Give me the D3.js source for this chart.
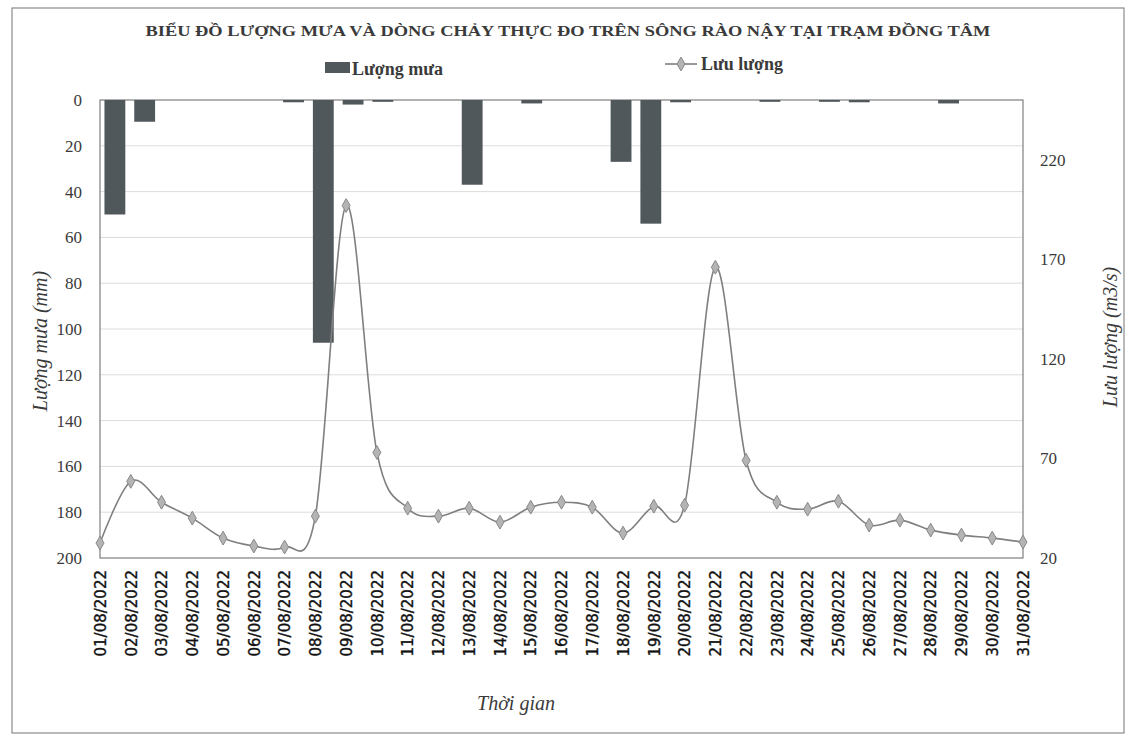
<!DOCTYPE html>
<html>
<head>
<meta charset="utf-8">
<script src="https://cdn.jsdelivr.net/npm/d3@7"></script>
<style>
  html, body { margin: 0; padding: 0; background: #fff; }
  svg { display: block; }
</style>
</head>
<body>
<svg id="chart" width="1128" height="737"></svg>
<script>
// ---------- DATA ----------
const days = ["01/08/2022","02/08/2022","03/08/2022","04/08/2022","05/08/2022","06/08/2022","07/08/2022","08/08/2022","09/08/2022","10/08/2022","11/08/2022","12/08/2022","13/08/2022","14/08/2022","15/08/2022","16/08/2022","17/08/2022","18/08/2022","19/08/2022","20/08/2022","21/08/2022","22/08/2022","23/08/2022","24/08/2022","25/08/2022","26/08/2022","27/08/2022","28/08/2022","29/08/2022","30/08/2022","31/08/2022"];
const rainfall = [50, 9.5, 0, 0, 0, 0, 1, 106, 2, 0.8, 0, 0, 37, 0, 1.5, 0, 0, 27, 54, 1, 0, 0, 0.8, 0, 0.8, 1, 0, 0, 1.5, 0, 0];
const discharge = [27.5, 58.5, 48, 40, 30, 26, 25.5, 41, 197, 73, 45, 41, 45, 38, 45.5, 48, 45.5, 32.5, 46, 46.5, 166, 69, 48, 44.5, 48.5, 36.5, 39, 34, 31.5, 30, 28];
const rainTicks = [0, 20, 40, 60, 80, 100, 120, 140, 160, 180, 200];
const flowTicks = [20, 70, 120, 170, 220];
const titleText = "BIỂU ĐỒ LƯỢNG MƯA VÀ DÒNG CHẢY  THỰC ĐO TRÊN SÔNG RÀO NẬY TẠI TRẠM ĐỒNG TÂM";
const legendRain = "Lượng mưa";
const legendFlow = "Lưu lượng";
const yLeftTitle = "Lượng mưa (mm)";
const yRightTitle = "Lưu lượng  (m3/s)";
const xTitle = "Thời gian";

// ---------- LAYOUT ----------
const svg = d3.select("#chart");
const L = 100, R = 1023, T = 100, B = 558;
const serif = "'Liberation Serif', 'Times New Roman', serif";

// outer chart border
svg.append("rect").attr("x", 12).attr("y", 8).attr("width", 1112).attr("height", 725)
  .attr("fill", "none").attr("stroke", "#8a8a8a").attr("stroke-width", 1.2);

// scales
const xBand = d3.scaleBand().domain(days).range([L, R]).paddingInner(0.3).paddingOuter(0.15);
const xPoint = d3.scalePoint().domain(days).range([L, R]);
const yRain = d3.scaleLinear().domain([0, 200]).range([T, B]);
const yFlow = d3.scaleLinear().domain([20, 250]).range([B, T]);

// gridlines (left axis)
svg.append("g").selectAll("line").data(rainTicks.slice(1, -1)).join("line")
  .attr("x1", L).attr("x2", R)
  .attr("y1", d => yRain(d)).attr("y2", d => yRain(d))
  .attr("stroke", "#dcdcdc").attr("stroke-width", 1);

// plot border
svg.append("rect").attr("x", L).attr("y", T).attr("width", R - L).attr("height", B - T)
  .attr("fill", "none").attr("stroke", "#7f7f7f").attr("stroke-width", 1.2);

// bars
svg.append("g").selectAll("rect").data(days).join("rect")
  .attr("x", d => xBand(d))
  .attr("y", yRain(0))
  .attr("width", xBand.bandwidth())
  .attr("height", (d, i) => yRain(rainfall[i]) - yRain(0))
  .attr("fill", "#50585c");

// line
const lineGen = d3.line()
  .x((d, i) => xPoint(days[i]))
  .y(d => yFlow(d))
  .curve(d3.curveCardinal.tension(0));
svg.append("path").datum(discharge).attr("d", lineGen)
  .attr("fill", "none").attr("stroke", "#7f7f7f").attr("stroke-width", 1.6);

// markers
const diamond = d3.symbol().type(d3.symbolDiamond).size(55);
svg.append("g").selectAll("path").data(discharge).join("path")
  .attr("d", diamond)
  .attr("transform", (d, i) => `translate(${xPoint(days[i])},${yFlow(d)})`)
  .attr("fill", "#b4b4b4").attr("stroke", "#888").attr("stroke-width", 1);

// left axis
const axL = d3.axisLeft(yRain).tickValues(rainTicks).tickSize(0).tickPadding(18);
const gL = svg.append("g").attr("transform", `translate(${L},0)`).call(axL);
gL.select(".domain").remove();
gL.selectAll("text").attr("font-family", serif).attr("font-size", 17).attr("fill", "#3a3a3a");

// right axis
const axR = d3.axisRight(yFlow).tickValues(flowTicks).tickSize(0).tickPadding(17);
const gR = svg.append("g").attr("transform", `translate(${R},0)`).call(axR);
gR.select(".domain").remove();
gR.selectAll("text").attr("font-family", serif).attr("font-size", 17).attr("fill", "#3a3a3a");

// x axis labels
const axB = d3.axisBottom(xPoint).tickSize(0).tickPadding(0);
const gB = svg.append("g").attr("transform", `translate(0,${B})`).call(axB);
gB.select(".domain").remove();
gB.selectAll("text")
  .attr("font-family", "'DejaVu Sans', Verdana, sans-serif")
  .attr("font-size", 15).attr("fill", "#111")
  .attr("stroke", "#111").attr("stroke-width", 0.35)
  .attr("text-anchor", "end")
  .attr("transform", "rotate(-90)")
  .attr("x", -12).attr("y", 0).attr("dy", "0.35em");

// title
svg.append("text").attr("x", 568).attr("y", 36).attr("text-anchor", "middle")
  .attr("font-family", serif).attr("font-weight", "bold").attr("font-size", 15)
  .attr("fill", "#3a3a3a")
  .attr("textLength", 845).attr("lengthAdjust", "spacingAndGlyphs")
  .text(titleText);

// legend
svg.append("rect").attr("x", 325).attr("y", 62).attr("width", 25).attr("height", 11).attr("fill", "#50585c");
svg.append("text").attr("x", 352).attr("y", 75).attr("font-family", serif).attr("font-weight", "bold")
  .attr("font-size", 18).attr("fill", "#3a3a3a").text(legendRain);
svg.append("line").attr("x1", 665).attr("x2", 697).attr("y1", 64).attr("y2", 64)
  .attr("stroke", "#7f7f7f").attr("stroke-width", 1.6);
svg.append("path").attr("d", diamond).attr("transform", "translate(681,64)")
  .attr("fill", "#b4b4b4").attr("stroke", "#888");
svg.append("text").attr("x", 701).attr("y", 70).attr("font-family", serif).attr("font-weight", "bold")
  .attr("font-size", 18).attr("fill", "#3a3a3a").text(legendFlow);

// axis titles
svg.append("text").attr("transform", `translate(47,${(T + B) / 2 + 12}) rotate(-90)`)
  .attr("text-anchor", "middle").attr("font-family", serif).attr("font-style", "italic")
  .attr("font-size", 20).attr("fill", "#3a3a3a").text(yLeftTitle);
svg.append("text").attr("transform", `translate(1117,${(T + B) / 2 + 8}) rotate(-90)`)
  .attr("text-anchor", "middle").attr("font-family", serif).attr("font-style", "italic")
  .attr("font-size", 20).attr("fill", "#3a3a3a").text(yRightTitle);
svg.append("text").attr("x", 516).attr("y", 710).attr("text-anchor", "middle")
  .attr("font-family", serif).attr("font-style", "italic")
  .attr("font-size", 20).attr("fill", "#3a3a3a").text(xTitle);
</script>
</body>
</html>
